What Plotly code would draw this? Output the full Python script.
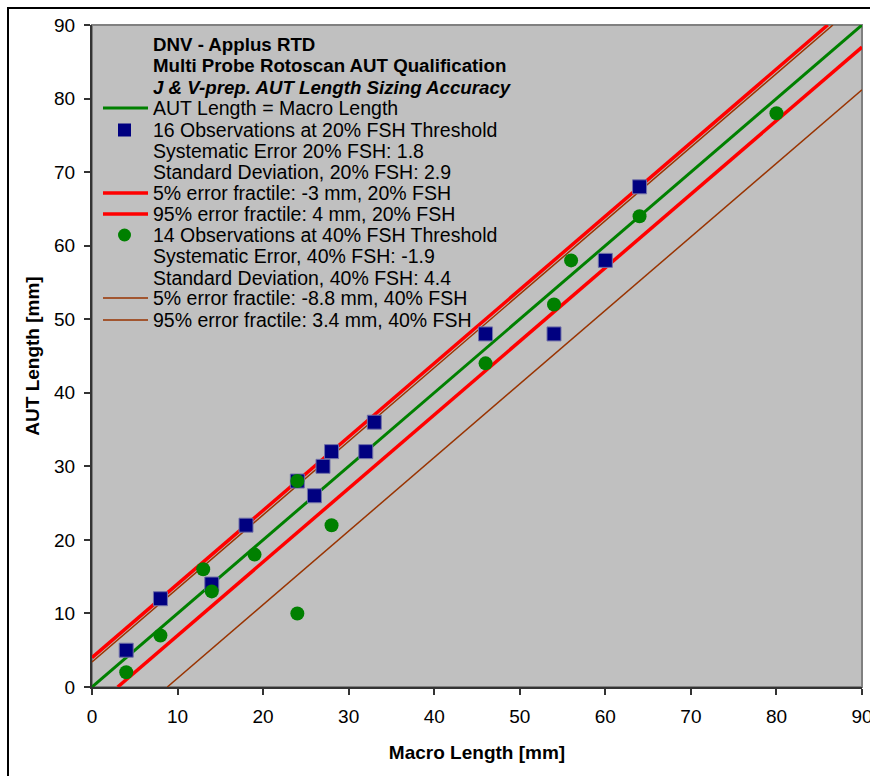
import plotly.graph_objects as go

# ---- data ----
obs20_x = [4, 8, 14, 18, 24, 26, 27, 28, 32, 33, 46, 54, 60, 64]
obs20_y = [5, 12, 14, 22, 28, 26, 30, 32, 32, 36, 48, 48, 58, 68]
obs40_x = [4, 8, 13, 14, 19, 24, 24, 28, 46, 54, 56, 64, 80]
obs40_y = [2, 7, 16, 13, 18, 28, 10, 22, 44, 52, 58, 64, 78]

frac20_low, frac20_high = -3.0, 4.0
frac40_low, frac40_high = -8.8, 3.4
axis_min, axis_max = 0, 90

header_lines = [
    "<b>DNV - Applus RTD</b>",
    "<b>Multi Probe Rotoscan AUT Qualification</b>",
    "<b><i>J & V-prep. AUT Length Sizing Accuracy</i></b>",
]
legend_lines = [
    "AUT Length = Macro Length",
    "16 Observations at 20% FSH Threshold",
    "Systematic Error 20% FSH: 1.8",
    "Standard Deviation, 20% FSH: 2.9",
    "5% error fractile: -3 mm, 20% FSH",
    "95% error fractile: 4 mm, 20% FSH",
    "14 Observations at 40% FSH Threshold",
    "Systematic Error, 40% FSH: -1.9",
    "Standard Deviation, 40% FSH: 4.4",
    "5% error fractile: -8.8 mm, 40% FSH",
    "95% error fractile: 3.4 mm, 40% FSH",
]

GREEN = "#008000"
NAVY = "#000080"
RED = "#FF0000"
BROWN = "#993300"
FONT = "Liberation Sans, Arial"


def offset_line(off):
    x0 = max(axis_min, axis_min - off)
    x1 = min(axis_max, axis_max - off)
    return [x0, x1], [x0 + off, x1 + off]


fig = go.Figure()

for off, col, w in [(0, GREEN, 3), (frac20_low, RED, 3.5), (frac20_high, RED, 3.5),
                    (frac40_low, BROWN, 1.5), (frac40_high, BROWN, 1.5)]:
    xs, ys = offset_line(off)
    fig.add_trace(go.Scatter(x=xs, y=ys, mode="lines", line=dict(color=col, width=w),
                             showlegend=False, hoverinfo="skip"))

fig.add_trace(go.Scatter(x=obs20_x, y=obs20_y, mode="markers", showlegend=False,
                         marker=dict(symbol="square", size=14, color=NAVY,
                                     line=dict(color="#7070A8", width=1))))
fig.add_trace(go.Scatter(x=obs40_x, y=obs40_y, mode="markers", showlegend=False,
                         marker=dict(symbol="circle", size=14, color=GREEN,
                                     line=dict(color=GREEN, width=0))))

# geometry helpers (pixel -> paper)
L, R, T, B = 92, 8, 25, 89
W, H = 870, 776
pw, ph = W - L - R, H - T - B


def px(xp):
    return (xp - L) / pw


def py(yp):
    return (H - B - yp) / ph


annotations = []
shapes = []
rows_y = [45, 66, 87, 108, 130, 151, 172, 193, 214, 235, 256, 278, 298, 320]
texts = header_lines + legend_lines
for i, (txt, yy) in enumerate(zip(texts, rows_y)):
    size = 18.7 if i < len(header_lines) else 19.5
    annotations.append(dict(x=px(151), y=py(yy), xref="paper", yref="paper",
                            text=txt, showarrow=False, xanchor="left", yanchor="middle",
                            font=dict(family=FONT, size=size, color="black")))

# legend keys
key_lines = [(108, GREEN, 3), (193, RED, 3.5), (214, RED, 3.5), (298, BROWN, 1.5), (320, BROWN, 1.5)]
for yy, col, w in key_lines:
    shapes.append(dict(type="line", xref="paper", yref="paper", x0=px(103), x1=px(148),
                       y0=py(yy), y1=py(yy), line=dict(color=col, width=w)))
shapes.append(dict(type="rect", xref="paper", yref="paper", x0=px(118), x1=px(131),
                   y0=py(136.5), y1=py(123.5), fillcolor=NAVY, line=dict(width=0)))
shapes.append(dict(type="circle", xref="paper", yref="paper", x0=px(118), x1=px(131),
                   y0=py(241.5), y1=py(228.5), fillcolor=GREEN, line=dict(width=0)))

# plot frame (gray) and outer border (black)
shapes.append(dict(type="rect", xref="paper", yref="paper", x0=0, x1=1, y0=0, y1=1,
                   line=dict(color="#808080", width=2), layer="below"))
shapes.append(dict(type="rect", xref="paper", yref="paper", x0=px(8), x1=px(875),
                   y0=py(780), y1=py(8), line=dict(color="black", width=2)))

axis_common = dict(range=[axis_min, axis_max], dtick=10, ticks="outside", ticklen=6,
                   tickwidth=1.5, tickcolor="#333333", showgrid=False, zeroline=False,
                   showline=True, linecolor="#333333", linewidth=2,
                   ticklabeloverflow="allow", ticklabelstandoff=5,
                   tickfont=dict(family=FONT, size=19, color="black"))

fig.update_layout(
    width=W, height=H,
    margin=dict(l=L, r=R, t=T, b=B, autoexpand=False),
    paper_bgcolor="white", plot_bgcolor="#C0C0C0",
    showlegend=False,
    xaxis=dict(**axis_common,
               title=dict(text="<b>Macro Length [mm]</b>", standoff=20,
                          font=dict(family=FONT, size=19, color="black"))),
    yaxis=dict(**axis_common,
               title=dict(text="<b>AUT Length [mm]</b>", standoff=9,
                          font=dict(family=FONT, size=19, color="black"))),
    annotations=annotations,
    shapes=shapes,
)

fig.write_html("out.html")
